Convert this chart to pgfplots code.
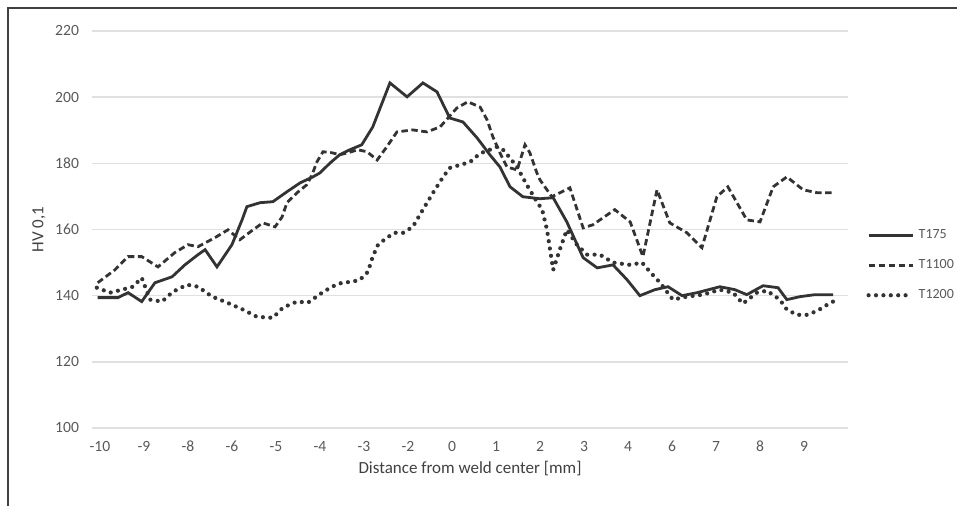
\documentclass[border=0pt]{standalone}
\usepackage{pgfplots}
\pgfplotsset{compat=1.18}
\usepackage{fontspec}
\setmainfont{Carlito}
\definecolor{gridc}{HTML}{E0E0E0}
\definecolor{tickc}{HTML}{595959}
\definecolor{linec}{HTML}{333333}
\begin{document}
\begin{tikzpicture}
\useasboundingbox (0,0) rectangle (478.5pt,253pt);
\draw[line width=0.8pt, black!75] (4pt,0pt) -- (4pt,249pt) -- (478.5pt,249pt);
\begin{axis}[
  at={(46pt,39pt)}, anchor=south west,
  scale only axis, width=378pt, height=198.5pt,
  xmin=-0.18, xmax=17.0, ymin=100, ymax=220,
  axis line style={draw=none},
  major tick length=0pt,
  ytick={100,120,...,220},
  ymajorgrids, grid style={gridc, line width=0.8pt},
  xtick={0,1,...,16},
  xticklabels={-10,-9,-8,-6,-5,-4,-3,-2,0,1,2,3,4,6,7,8,9},
  /pgf/number format/assume math mode=true,
  ticklabel style={font=\fontsize{7.8}{9}\selectfont, text=tickc},
  xticklabel style={yshift=-3pt},
  yticklabel style={xshift=-3pt},
  xlabel={Distance from weld center [mm]},
  ylabel={HV 0,1},
  label style={font=\fontsize{8.5}{10}\selectfont, text=black!75},
  xlabel style={yshift=2pt},
  ylabel style={yshift=-2pt},
  legend style={at={(1.016,0.41)}, anchor=west, draw=none, fill=none,
    font=\fontsize{7}{8}\selectfont, text=tickc, row sep=5pt,
    /tikz/every even column/.append style={column sep=2pt}},
  legend cell align=left,
  legend image code/.code={\draw[#1] (0pt,0pt) -- (22pt,0pt);},
]
\addplot[linec, line width=1.4pt] coordinates {
(-0.05,139.4) (0.41,139.4) (0.64,140.9) (0.95,138.2) (1.25,143.9) (1.64,145.7)
(1.93,149.3) (2.23,152.4) (2.39,153.9) (2.66,148.7) (3.00,155.4) (3.23,162.9)
(3.34,166.9) (3.64,168.1) (3.93,168.4) (4.25,171.4) (4.55,174.1) (4.84,175.9)
(5.00,177.1) (5.23,180.1) (5.45,182.6) (5.68,184.1) (5.95,185.6) (6.20,191.0)
(6.59,204.3) (6.98,200.1) (7.34,204.3) (7.66,201.6) (7.95,193.7) (8.25,192.5)
(8.57,187.7) (8.86,182.6) (9.09,178.9) (9.32,172.9) (9.61,169.9) (10.00,169.3)
(10.30,169.6) (10.61,162.3) (10.98,151.5) (11.30,148.4) (11.66,149.3) (11.98,144.8)
(12.27,140.0) (12.61,141.8) (12.91,142.7) (13.23,140.0) (13.57,140.9) (14.09,142.7)
(14.43,141.8) (14.70,140.3) (15.07,143.0) (15.41,142.4) (15.61,138.8) (15.91,139.7)
(16.25,140.3) (16.66,140.3)
};
\addlegendentry{T175}
\addplot[linec, line width=1.4pt, dash pattern=on 3.2pt off 1.8pt] coordinates {
(-0.05,143.9) (0.34,147.8) (0.64,151.8) (0.95,151.8) (1.32,148.7) (1.70,153.0)
(2.00,155.4) (2.23,154.8) (2.61,157.5) (2.91,159.9) (3.18,156.9) (3.48,159.9)
(3.70,162.0) (3.98,160.8) (4.14,163.8) (4.25,168.1) (4.48,171.1) (4.70,173.5)
(4.82,176.5) (4.93,180.4) (5.07,183.5) (5.27,183.2) (5.45,182.6) (5.64,183.2)
(5.86,184.1) (6.07,183.5) (6.30,181.0) (6.52,185.0) (6.75,189.5) (7.11,190.1)
(7.43,189.5) (7.73,191.0) (8.11,196.7) (8.36,198.6) (8.64,197.0) (8.80,193.1)
(8.93,188.0) (9.09,183.2) (9.25,178.9) (9.48,178.0) (9.66,185.6) (9.77,183.2)
(9.93,177.1) (10.00,175.0) (10.27,169.9) (10.68,172.6) (10.98,160.5) (11.20,161.4)
(11.70,166.0) (12.05,162.3) (12.34,151.8) (12.66,172.0) (12.95,162.0) (13.34,159.0)
(13.68,154.5) (14.02,169.9) (14.27,172.9) (14.70,162.9) (15.00,162.3) (15.30,172.9)
(15.61,175.9) (15.98,172.0) (16.30,171.1) (16.66,171.1)
};
\addlegendentry{T1100}
\addplot[linec, line width=2.1pt, line cap=round, dash pattern=on 0pt off 3.7pt] coordinates {
(-0.07,142.4) (0.23,140.9) (0.50,141.8) (0.75,142.7) (0.95,145.4) (1.14,138.8)
(1.41,138.2) (1.66,141.2) (1.98,143.3) (2.23,142.7) (2.55,139.7) (2.89,137.9)
(3.25,135.8) (3.57,133.6) (3.93,133.3) (4.16,136.4) (4.48,138.2) (4.73,137.9)
(4.89,139.4) (5.05,140.9) (5.27,142.7) (5.50,143.9) (5.73,144.2) (5.91,144.8)
(6.09,147.2) (6.20,151.8) (6.32,155.4) (6.52,157.5) (6.70,159.0) (6.89,159.0)
(7.11,160.8) (7.34,166.0) (7.57,171.1) (7.80,175.9) (7.95,178.6) (8.18,179.5)
(8.41,180.4) (8.64,183.0) (8.86,184.1) (9.02,185.0) (9.16,184.1) (9.32,181.6)
(9.48,178.9) (9.70,173.5) (9.93,168.4) (10.05,166.0) (10.16,159.9) (10.30,147.8)
(10.45,153.9) (10.61,159.9) (10.84,155.4) (11.07,152.4) (11.36,152.4) (11.66,150.0)
(12.05,149.3) (12.32,150.0) (12.50,147.2) (12.73,143.9) (13.02,138.8) (13.34,139.7)
(13.70,140.3) (14.09,141.8) (14.39,140.9) (14.61,137.6) (14.93,140.9) (15.16,141.5)
(15.45,138.8) (15.61,135.8) (15.84,134.2) (16.07,134.2) (16.30,135.4) (16.52,137.2)
(16.66,138.2)
};
\addlegendentry{T1200}
\end{axis}
\end{tikzpicture}
\end{document}
